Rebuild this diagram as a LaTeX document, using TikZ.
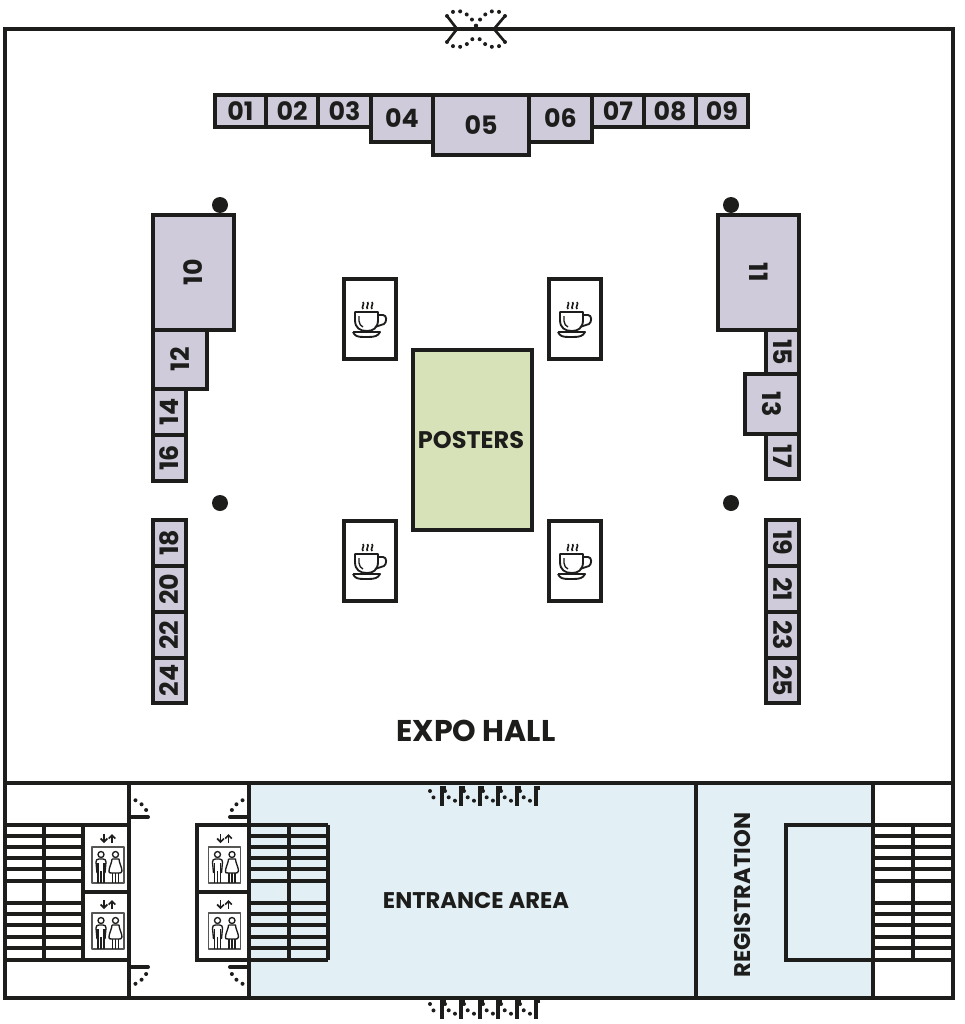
\documentclass[tikz,border=0pt]{standalone}
\usepackage{fontspec}
\usetikzlibrary{arrows.meta}
\setmainfont{Poppins}
\definecolor{wallcol}{HTML}{1D1D1B}
\definecolor{boothcol}{HTML}{CFCBDB}
\definecolor{postercol}{HTML}{D8E2B8}
\definecolor{entrycol}{HTML}{E2EFF5}
\tikzstyle{wall}=[draw=wallcol,line width=2.7pt]
\tikzstyle{stair}=[draw=wallcol,line width=2.5pt]
\tikzstyle{booth}=[draw=wallcol,fill=boothcol,line width=2.3pt]
\tikzstyle{boothlabel}=[text=wallcol,font=\fontsize{19}{20}\selectfont\bfseries,inner sep=0pt]
\tikzstyle{arealabel}=[text=wallcol,font=\fontsize{17}{18}\selectfont\bfseries,inner sep=0pt]
\tikzstyle{swing}=[draw=wallcol,line width=3pt,line cap=round,dash pattern=on 0pt off 5.5pt]
\tikzstyle{leaf}=[draw=wallcol,line width=2pt]
\tikzstyle{icon}=[draw=wallcol,line width=1pt,line join=round]
\tikzset{
	cup/.pic={
		\foreach \s in {-7,-2.5,2}
			\draw[icon,line width=1.2pt] (\s,-10) .. controls (\s-2,-12) and (\s+2,-15) .. (\s,-17);
		\draw[icon,line width=1.4pt] (-15,-7) -- (8,-7) -- (8,1) .. controls (8,9) and (3,12) .. (-3,12)
			.. controls (-10,12) and (-15,9) .. (-15,1) -- cycle;
		\draw[icon] (-11,-3) -- (-11,2) .. controls (-11,5) and (-9,7) .. (-7,8);
		\draw[icon,line width=1.4pt] (8,-4) -- (13,-4) .. controls (17,-4) and (17,3) .. (14,5)
			-- (5,8);
		\draw[icon,line width=1.4pt] (-17,13) -- (10,13) .. controls (8,17) and (5,18) .. (-2,18)
			-- (-6,18) .. controls (-13,18) and (-15,17) .. (-17,13);
	},
	lift/.pic={
		\draw[icon,line width=1.1pt,draw=wallcol!75] (-16,-18) rectangle (16,18);
		\draw[icon,line width=1.2pt,-{Straight Barb[length=2.5pt,width=5pt]}] (-4,-31) -- (-4,-22);
		\draw[icon,line width=1.2pt,-{Straight Barb[length=2.5pt,width=5pt]}] (4,-22) -- (4,-31);
		% man
		\draw[icon] (-7,-10.5) circle (3);
		\draw[icon] (-11,8) -- (-12,-3) .. controls (-12,-5) and (-11,-6) .. (-9,-6) -- (-5,-6)
			.. controls (-3,-6) and (-2,-5) .. (-2,-3) -- (-3,8);
		\draw[icon] (-10,-2) -- (-10,18) (-7,6) -- (-7,18) (-4,-2) -- (-4,18);
		% woman
		\draw[icon] (7.5,-10.5) circle (3);
		\draw[icon] (4,-6) -- (11,-6) .. controls (11,-2) and (14,2) .. (14,6)
			.. controls (14,8) and (12,8) .. (11,8) -- (4,8) .. controls (2,8) and (0,8) .. (1,6)
			.. controls (1,2) and (4,-2) .. (4,-6);
		\draw[icon] (4.5,8) -- (4.5,18) (7.5,8) -- (7.5,18) (10.5,8) -- (10.5,18);
	}
}
\begin{document}
\begin{tikzpicture}[x=.75pt,y=-.75pt]
	\useasboundingbox (0,0) rectangle (964,1024);
	\fill[white] (0,0) rectangle (964,1024);
	% floor
	\fill[entrycol] (249,783) rectangle (873,998);
	\draw[wall] (5,29) rectangle (953,998);
	\draw[wall] (5,783) -- (953,783);
	\foreach \x in {129,249,696,873}
		\draw[wall] (\x,783) -- (\x,998);
	% front door
	\draw[leaf] (447,16) -- (457,29) -- (447,42) (505,16) -- (494,29) -- (505,42);
	\draw[swing] (447,16) .. controls (455,7) and (468,10) .. (476,26);
	\draw[swing] (505,16) .. controls (497,7) and (484,10) .. (476,26);
	\draw[swing] (447,42) .. controls (455,51) and (468,48) .. (476,34);
	\draw[swing] (505,42) .. controls (497,51) and (484,48) .. (476,34);
	% booths
	\foreach \num/\xa/\ya/\xb/\yb/\rot in {01/215/95/266/127/0,02/266/95/318/127/0,03/318/95/371/127/0,
		04/371/95/433/142/0,05/433/95/529/155/0,06/529/95/592/142/0,
		07/592/95/644/127/0,08/644/95/696/127/0,09/696/95/748/127/0,
		10/153/215/234/330/90,12/153/330/207/389/90,14/153/389/186/435/90,16/153/435/186/481/90,
		18/153/520/186/566/90,20/153/566/186/612/90,22/153/612/186/658/90,24/153/658/186/703/90,
		11/718/215/799/330/-90,15/766/330/799/374/-90,13/745/374/799/434/-90,17/766/434/799/479/-90,
		19/766/520/799/566/-90,21/766/566/799/612/-90,23/766/612/799/658/-90,25/766/658/799/703/-90}
	{
		\draw[booth] (\xa,\ya) rectangle (\xb,\yb);
		\node[boothlabel,rotate=\rot] (b\num) at ({(\xa+\xb)/2},{(\ya+\yb)/2}) {\num};
	}
	\foreach \x/\y in {220/205,731/205,220/503,731/503}
		\fill[wallcol] (\x,\y) circle (8);
	% coffee
	\foreach \x/\y in {370/319,575/319,370/561,575/561}
	{
		\draw[wall,line width=2.4pt,fill=white] (\x-26,\y-40) rectangle (\x+26,\y+40);
		\pic at (\x,\y) {cup};
	}
	\draw[booth,fill=postercol] (413,350) rectangle (532,530);
	\node[arealabel,font=\fontsize{18}{19}\selectfont\bfseries] (posters) at (471,440) {POSTERS};
	\node[text=wallcol,font=\fontsize{22.5}{23}\selectfont\bfseries,inner sep=0pt] (expo) at (476,731) {EXPO HALL};
	\node[arealabel] (entrance) at (476,900) {ENTRANCE AREA};
	\node[arealabel,rotate=90] (registration) at (743,895) {REGISTRATION};
	% stairs
	\foreach \xa/\xm/\xb in {5/44/83,249/289/328,873/913/953}
	{
		\foreach \y in {825,836,847,858,869,881,903,914,925,937,948,960}
			\draw[stair] (\xa,\y) -- (\xb,\y);
		\draw[stair] (\xm,825) -- (\xm,960);
		\draw[stair] (\xb,825) -- (\xb,960);
	}
	\draw[wall] (873,825) -- (786,825) -- (786,960) -- (873,960);
	% lifts
	\draw[stair,fill=white] (83,825) rectangle (129,892) (83,892) rectangle (129,960);
	\draw[stair,fill=white] (197,825) rectangle (249,892) (197,892) rectangle (249,960);
	\foreach \x/\y in {108/865,108/931,224.5/865,224.5/931}
		\pic at (\x,\y) {lift};
	% side doors
	\foreach \xo/\yo/\dx/\dy in {129/817/1/-1,249/817/-1/-1,129/967/1/1,249/967/-1/1}
	{
		\draw[wall] (\xo,\yo) -- (\xo+\dx*19,\yo);
		\draw[swing] (\xo+\dx*19,\yo) .. controls (\xo+\dx*19,\yo+\dy*9) and (\xo+\dx*10,\yo+\dy*17) .. (\xo,\yo+\dy*19);
	}
	% entrance doors
	\foreach \xa/\xb in {427/442,442/461,461/480,480/498,498/517,517/536}
		\foreach \ya/\yb in {788/804,1001/1017}
			\draw[swing] (\xa+3,\ya+3) .. controls (\xa+6,{\ya+(\yb-\ya)*.6}) and (\xa+8,{\ya+(\yb-\ya)*.8}) .. (\xb-3,\yb-3);
	\foreach \x in {442,461,480,498,517,536}
		\foreach \ya/\yb in {787/804,1000/1017}
			\draw[wall,line width=2.6pt] (\x+4,\ya+1) -- (\x,\ya+1) -- (\x,\yb) -- (\x-2,\yb);
\end{tikzpicture}
\end{document}
